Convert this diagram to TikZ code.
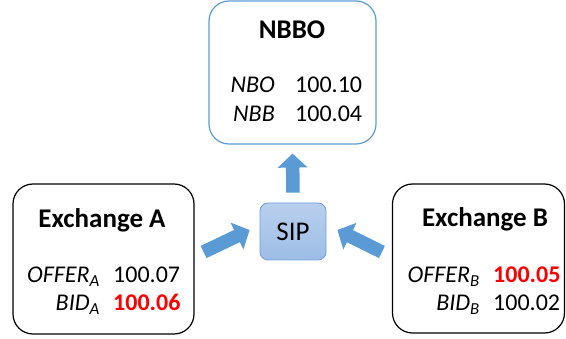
\documentclass[tikz,border=0pt]{standalone}
\usepackage{fontspec}
\setmainfont{Carlito}
\usetikzlibrary{arrows.meta}
\definecolor{officeblue}{HTML}{5B9BD5}
\definecolor{siptop}{HTML}{B9CFEE}
\definecolor{sipbot}{HTML}{9DBDE6}
\definecolor{sipline}{HTML}{6E9FD9}
\definecolor{pricered}{HTML}{FF0000}
\tikzset{
	quotebox/.style = {draw, line width=1.2, rounded corners=20},
	title/.style = {anchor=base, inner sep=0, font=\fontsize{27}{30}\selectfont\bfseries},
	label/.style = {anchor=base east, inner sep=0},
	price/.style = {anchor=base west, inner sep=0},
	best/.style = {price, text=pricered, font=\fontsize{24}{28}\selectfont\bfseries},
	blockarrow/.style = {draw=officeblue, line width=13.5, -{Triangle[length=14pt,width=29pt]}}
}
\begin{document}
\begin{tikzpicture}[x=1pt, y=-1pt, font=\fontsize{24}{28}\selectfont]
	\useasboundingbox (0,0) rectangle (566,339);
	\node [quotebox, draw=officeblue, minimum width=167, minimum height=143] (nbbo) at (292.5,72.5) {};
	\node [quotebox, minimum width=181, minimum height=150] (exA) at (103.5,259) {};
	\node [quotebox, minimum width=172, minimum height=149] (exB) at (478.5,258.5) {};
	\node [draw=sipline, line width=0.8, top color=siptop, bottom color=sipbot, rounded corners=8,
		minimum width=66, minimum height=57, font=\fontsize{27}{30}\selectfont] (sip) at (293,231.5) {SIP};

	\node [title] (nbbo title) at (292,39) {NBBO};
	\node [price, anchor=base east] (nbo) at (275,93) {\textit{NBO}};
	\node [price] (nbo val) at (295,93) {100.10};
	\node [price, anchor=base east] (nbb) at (275,122) {\textit{NBB}};
	\node [price] (nbb val) at (295,122) {100.04};

	\node [title] (exA title) at (102,228) {Exchange A};
	\node [label] (offerA) at (100,283) {\textit{OFFER}\textsubscript{\textit{A}}};
	\node [price] (offerA val) at (113,283) {100.07};
	\node [label] (bidA) at (100,311) {\textit{BID}\textsubscript{\textit{A}}};
	\node [best] (bidA val) at (113,311) {100.06};

	\node [title] (exB title) at (485,227) {Exchange B};
	\node [label] (offerB) at (480,283) {\textit{OFFER}\textsubscript{\textit{B}}};
	\node [best] (offerB val) at (493,283) {100.05};
	\node [label] (bidB) at (480,311) {\textit{BID}\textsubscript{\textit{B}}};
	\node [price] (bidB val) at (493,311) {100.02};

	\draw [blockarrow] ([yshift=10]sip.north) -- ([yshift=-9]nbbo.south);
	\draw [blockarrow] ([shift={(9,-7)}]exA.east) -- ([shift={(-10,-1.5)}]sip.west);
	\draw [blockarrow] ([shift={(-10,-6.5)}]exB.west) -- ([shift={(11,-1.5)}]sip.east);
\end{tikzpicture}
\end{document}
